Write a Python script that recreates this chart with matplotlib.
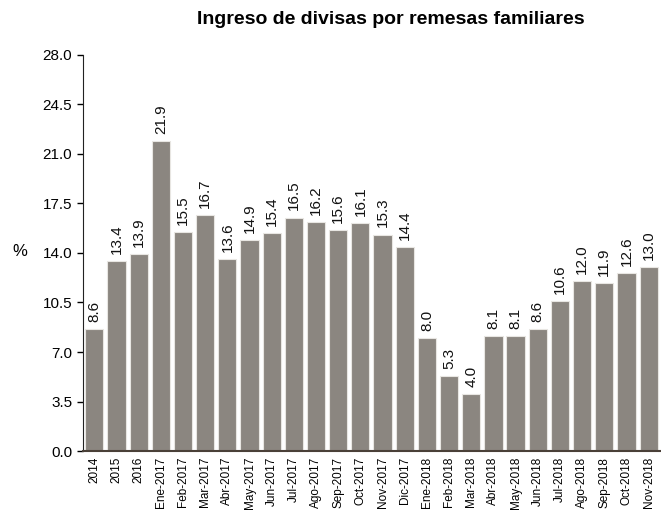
import matplotlib
matplotlib.use("Agg")
import matplotlib.pyplot as plt
import numpy as np

# data
labels = ["2014", "2015", "2016", "Ene-2017", "Feb-2017", "Mar-2017", "Abr-2017",
          "May-2017", "Jun-2017", "Jul-2017", "Ago-2017", "Sep-2017", "Oct-2017",
          "Nov-2017", "Dic-2017", "Ene-2018", "Feb-2018", "Mar-2018", "Abr-2018",
          "May-2018", "Jun-2018", "Jul-2018", "Ago-2018", "Sep-2018", "Oct-2018",
          "Nov-2018"]
values = [8.6, 13.4, 13.9, 21.9, 15.5, 16.7, 13.6, 14.9, 15.4, 16.5, 16.2, 15.6,
          16.1, 15.3, 14.4, 8.0, 5.3, 4.0, 8.1, 8.1, 8.6, 10.6, 12.0, 11.9, 12.6, 13.0]
yticks = [0.0, 3.5, 7.0, 10.5, 14.0, 17.5, 21.0, 24.5, 28.0]

plt.rcParams["font.family"] = ["Liberation Sans", "DejaVu Sans"]

fig = plt.figure(figsize=(6.61, 5.12), dpi=100)
ax = fig.add_axes([0.126, 0.119, 0.872, 0.774])

x = np.arange(len(values))
ax.bar(x, values, width=0.82, color="#8b8680", edgecolor="#e8e6e2", linewidth=0.8)

for xi, v in zip(x, values):
    ax.text(xi, v + 0.5, f"{v:.1f}", rotation=90, ha="center", va="bottom",
            fontsize=11, color="#111111")

ax.set_xlim(-0.5, len(values) - 0.5)
ax.set_ylim(0, 28)
ax.set_yticks(yticks)
ax.set_yticklabels([f"{t:.1f}" for t in yticks], fontsize=11)
ax.set_xticks(x)
ax.set_xticklabels(labels, rotation=90, fontsize=8.5)
ax.tick_params(axis="x", length=0, pad=4)
ax.tick_params(axis="y", length=4, width=1, direction="out", pad=4)

for s in ["top", "right"]:
    ax.spines[s].set_visible(False)
ax.spines["left"].set_color("#222222")
ax.spines["bottom"].set_color("#4a4038")
ax.spines["bottom"].set_linewidth(1.5)

fig.text(0.03, 0.508, "%", fontsize=12, ha="center", va="center")
fig.text(0.592, 0.962, "Ingreso de divisas por remesas familiares", fontsize=14,
         fontweight="bold", ha="center", va="center")

fig.savefig("out.png", dpi=100)
